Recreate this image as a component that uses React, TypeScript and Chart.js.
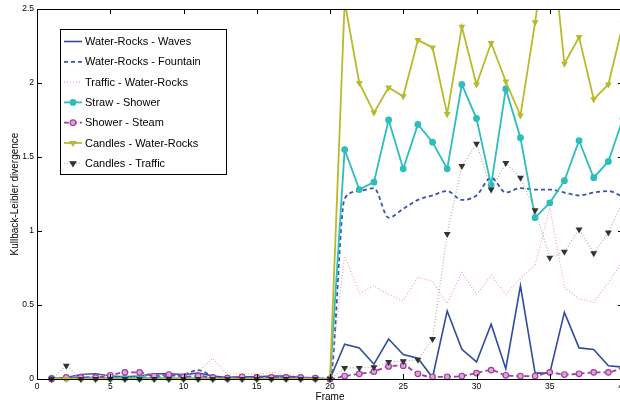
import React, { useEffect, useRef } from "react";
import { Chart, registerables } from "chart.js";
Chart.register(...registerables);

const FONT = '"Liberation Sans", Arial, Helvetica, sans-serif';

const frames = [1, 2, 3, 4, 5, 6, 7, 8, 9, 10, 11, 12, 13, 14, 15, 16, 17, 18, 19, 20,
  21, 22, 23, 24, 25, 26, 27, 28, 29, 30, 31, 32, 33, 34, 35, 36, 37, 38, 39, 40];
const xTicks = [0, 5, 10, 15, 20, 25, 30, 35, 40];
const yTicks = [0, 0.5, 1, 1.5, 2, 2.5];

const seriesNames = [
  "Water-Rocks - Waves",
  "Water-Rocks - Fountain",
  "Traffic - Water-Rocks",
  "Straw - Shower",
  "Shower - Steam",
  "Candles - Water-Rocks",
  "Candles - Traffic",
];

const waves = [0, 0.01, 0.03, 0.035, 0.02, 0.015, 0.02, 0.035, 0.035, 0.03, 0.04, 0.02, 0.01, 0.015, 0.015, 0.02, 0.02, 0.01, 0.005, 0,
  0.235, 0.21, 0.10, 0.27, 0.165, 0.14, 0.01, 0.46, 0.20, 0.115, 0.37, 0.07, 0.63, 0.04, 0.04, 0.45, 0.21, 0.20, 0.09, 0.08];
const fountain = [0, 0.005, 0.01, 0.01, 0.01, 0.01, 0.01, 0.01, 0.02, 0.03, 0.06, 0.02, 0.01, 0.01, 0.01, 0.01, 0.01, 0.01, 0.005, 0,
  1.22, 1.27, 1.29, 1.09, 1.15, 1.21, 1.24, 1.27, 1.21, 1.24, 1.36, 1.26, 1.29, 1.28, 1.28, 1.26, 1.24, 1.26, 1.27, 1.23];
const trafficWR = [0, 0.01, 0.03, 0.03, 0.02, 0.02, 0.02, 0.03, 0.02, 0.03, 0.05, 0.14, 0.03, 0.04, 0.03, 0.045, 0.03, 0.02, 0.01, 0,
  0.83, 0.58, 0.63, 0.57, 0.53, 0.69, 0.66, 0.51, 0.72, 0.57, 0.70, 0.57, 0.68, 0.77, 1.16, 0.62, 0.54, 0.52, 0.65, 0.80];
const strawShower = [0.005, 0.005, 0.005, 0.005, 0.005, 0.005, 0.005, 0.005, 0.005, 0.005, 0.005, 0.005, 0.005, 0.005, 0.005, 0.005, 0.005, 0.005, 0.005, 0,
  1.55, 1.28, 1.33, 1.75, 1.42, 1.72, 1.60, 1.42, 1.99, 1.76, 1.31, 1.96, 1.63, 1.09, 1.19, 1.34, 1.61, 1.36, 1.47, 1.76];
const showerSteam = [0, 0.01, 0.01, 0.01, 0.025, 0.045, 0.045, 0.02, 0.03, 0.015, 0.02, 0.01, 0.005, 0.015, 0.01, 0.01, 0.01, 0.01, 0.005, 0,
  0.02, 0.035, 0.05, 0.085, 0.09, 0.035, 0.015, 0.015, 0.02, 0.04, 0.06, 0.025, 0.02, 0.02, 0.045, 0.03, 0.035, 0.045, 0.045, 0.08];
const candlesWR = [0, 0, 0, 0, 0, 0, 0, 0, 0, 0, 0, 0, 0, 0, 0, 0, 0, 0, 0, 0,
  2.55, 2.0, 1.80, 1.97, 1.91, 2.29, 2.24, 1.79, 2.38, 1.99, 2.27, 2.01, 1.78, 2.41, 3.1, 2.13, 2.31, 1.89, 1.99, 2.4];
const candlesTraffic = [0, 0.09, 0, 0, 0, 0, 0, 0, 0, 0, 0, 0, 0, 0, 0, 0, 0, 0, 0, 0,
  0.075, 0.075, 0.08, 0.115, 0.12, 0.13, 0.27, 0.98, 1.44, 1.59, 1.28, 1.46, 1.36, 1.14, 0.82, 0.86, 1.01, 0.85, 0.99, 1.2];

const seriesValues = [waves, fountain, trafficWR, strawShower, showerSteam, candlesWR, candlesTraffic];

type Style = {
  color: string; width: number; dash: number[]; point: string | false;
  pointColor?: string; pointBg?: string; pointRadius?: number; tension?: boolean;
};
const styles: Style[] = [
  { color: "#2f4c9f", width: 1.6, dash: [], point: false },
  { color: "#3a52b3", width: 1.8, dash: [4, 3], point: false, tension: true },
  { color: "#f4a0a0", width: 1.1, dash: [1, 2], point: false },
  { color: "#2dbdbd", width: 1.8, dash: [], point: "circle", pointColor: "#2dbdbd", pointBg: "#2dbdbd", pointRadius: 2.8 },
  { color: "#a33ca3", width: 1.8, dash: [5, 3], point: "circle", pointColor: "#a33ca3", pointBg: "#d9a8d9", pointRadius: 2.8, tension: true },
  { color: "#b9b92c", width: 1.8, dash: [], point: "triangle", pointColor: "#b9b92c", pointBg: "#b9b92c", pointRadius: 2.8 },
  { color: "#a8a8a8", width: 1.1, dash: [1, 2], point: "triangle", pointColor: "#333333", pointBg: "#333333", pointRadius: 2.8 },
];

function drawMarker(ctx: CanvasRenderingContext2D, s: Style, x: number, y: number) {
  if (!s.point) return;
  const r = s.pointRadius || 3;
  ctx.save();
  ctx.setLineDash([]);
  ctx.fillStyle = s.pointBg || s.color;
  ctx.strokeStyle = s.pointColor || s.color;
  ctx.lineWidth = 1.2;
  ctx.beginPath();
  if (s.point === "circle") {
    ctx.arc(x, y, r, 0, Math.PI * 2);
  } else {
    const h = r * 1.6;
    ctx.moveTo(x - r, y - h / 3);
    ctx.lineTo(x + r, y - h / 3);
    ctx.lineTo(x, y + (2 * h) / 3);
    ctx.closePath();
  }
  ctx.fill();
  ctx.stroke();
  ctx.restore();
}

export default function App() {
  const ref = useRef<HTMLCanvasElement>(null);
  useEffect(() => {
    if (!ref.current) return;
    const n = seriesNames.length;
    const datasets = seriesNames.map((name, i) => {
      const s = styles[i];
      return {
        label: name,
        data: frames.map((f, k) => ({ x: f, y: seriesValues[i][k] })),
        borderColor: s.color,
        backgroundColor: s.color,
        borderWidth: s.width,
        borderDash: s.dash,
        pointStyle: s.point || "circle",
        pointRadius: s.point ? s.pointRadius : 0,
        pointHoverRadius: s.point ? s.pointRadius : 0,
        pointBorderColor: s.pointColor || s.color,
        pointBackgroundColor: s.pointBg || s.color,
        pointBorderWidth: 1.2,
        pointRotation: s.point === "triangle" ? 180 : 0,
        cubicInterpolationMode: s.tension ? "monotone" : "default",
        tension: 0,
        fill: false,
        order: n - 1 - i,
        clip: { left: 6, top: 0, right: 20, bottom: 6 },
      };
    });

    const frameBox = {
      id: "frameBox",
      afterDatasetsDraw(chart: any) {
        const { ctx, chartArea: a, scales } = chart;
        ctx.save();
        ctx.strokeStyle = "#000";
        ctx.lineWidth = 1;
        ctx.setLineDash([]);
        ctx.strokeRect(Math.round(a.left) + 0.5, Math.round(a.top) + 0.5, a.right - a.left, a.bottom - a.top);
        const L = 5;
        ctx.beginPath();
        xTicks.forEach((v) => {
          const x = Math.round(scales.x.getPixelForValue(v)) + 0.5;
          ctx.moveTo(x, a.bottom); ctx.lineTo(x, a.bottom - L);
          ctx.moveTo(x, a.top); ctx.lineTo(x, a.top + L);
        });
        yTicks.forEach((v) => {
          const y = Math.round(scales.y.getPixelForValue(v)) + 0.5;
          ctx.moveTo(a.left, y); ctx.lineTo(a.left + L, y);
          ctx.moveTo(a.right, y); ctx.lineTo(a.right - L, y);
        });
        ctx.stroke();
        ctx.restore();
      },
      afterDraw(chart: any) {
        const ctx: CanvasRenderingContext2D = chart.ctx;
        ctx.save();
        const bx = 60.5, by = 29.5, bw = 166, bh = 145;
        ctx.fillStyle = "#fff";
        ctx.fillRect(bx, by, bw, bh);
        ctx.strokeStyle = "#000";
        ctx.lineWidth = 1;
        ctx.strokeRect(bx, by, bw, bh);
        ctx.font = `11px ${FONT}`;
        ctx.textBaseline = "middle";
        ctx.textAlign = "left";
        seriesNames.forEach((name, i) => {
          const s = styles[i];
          const y = 41.5 + i * 20.3;
          ctx.save();
          ctx.strokeStyle = s.color;
          ctx.lineWidth = s.width;
          ctx.setLineDash(s.dash);
          ctx.beginPath();
          ctx.moveTo(64, y);
          ctx.lineTo(82, y);
          ctx.stroke();
          ctx.restore();
          drawMarker(ctx, s, 73, y);
          ctx.fillStyle = "#000";
          ctx.fillText(name, 85, y + 0.5);
        });
        ctx.restore();
      },
    };

    const chart = new Chart(ref.current, {
      type: "line",
      data: { datasets: datasets as any },
      options: {
        responsive: false,
        animation: false,
        events: [],
        layout: { padding: { top: 9, right: 17, left: 0, bottom: 0 } },
        plugins: { legend: { display: false }, tooltip: { enabled: false } },
        scales: {
          x: {
            type: "linear",
            min: 0,
            max: 40,
            grid: { display: false, drawTicks: false },
            border: { display: false },
            ticks: { stepSize: 5, color: "#000", font: { size: 8.5, family: FONT }, padding: 3, maxRotation: 0, autoSkip: false },
            title: { display: true, text: "Frame", color: "#000", font: { size: 10, family: FONT }, padding: 0 },
            afterFit: (s: any) => { s.height = 24; },
          },
          y: {
            min: 0,
            max: 2.5,
            grid: { display: false, drawTicks: false },
            border: { display: false },
            ticks: { stepSize: 0.5, color: "#000", font: { size: 8.5, family: FONT }, padding: 3, callback: (v: any) => String(Number(v)) },
            title: { display: true, text: "Kullback-Leibler divergence", color: "#000", font: { size: 10, family: FONT }, padding: { top: 9, bottom: 0 } },
            afterFit: (s: any) => { s.width = 37; },
          },
        },
      } as any,
      plugins: [frameBox],
    });
    return () => chart.destroy();
  }, []);
  return (
    <div style={{ position: "fixed", left: 0, top: 0, width: 620, height: 403, overflow: "hidden", background: "#fff" }}>
      <canvas ref={ref} width={640} height={403} style={{ width: 640, height: 403, display: "block" }} />
    </div>
  );
}
